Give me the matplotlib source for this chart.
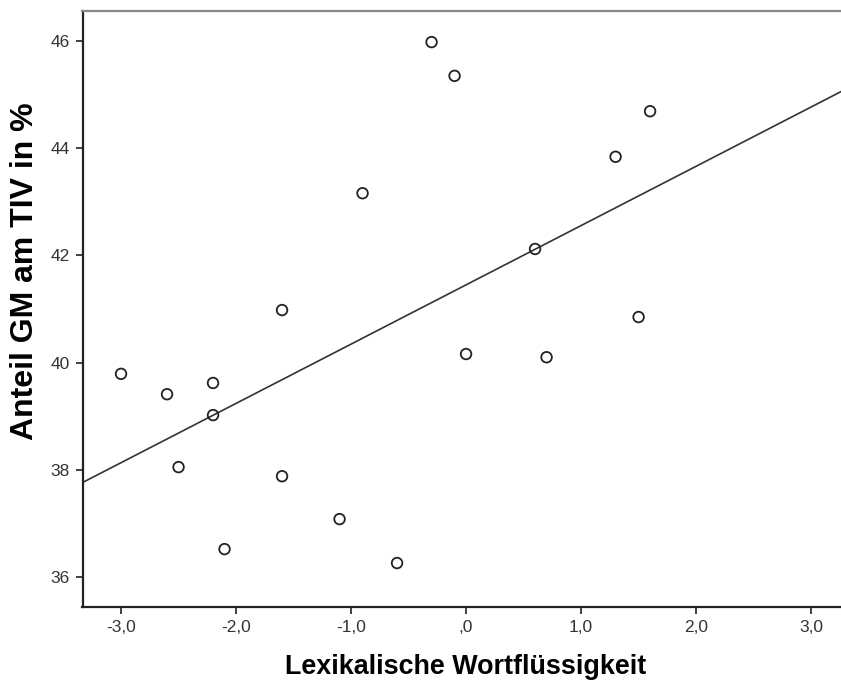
import numpy as np
import matplotlib
matplotlib.use("Agg")
import matplotlib.pyplot as plt

plt.rcParams['font.family'] = ['Liberation Sans', 'DejaVu Sans']

# Lexikalische Wortflüssigkeit (z-Werte) und Anteil graue Substanz am TIV
wortfluessigkeit = [-3.0, -2.6, -2.2, -2.2, -2.5, -2.1, -1.6, -1.6, -1.1, -0.9,
                    -0.6, -0.3, -0.1, 0.0, 0.6, 0.7, 1.3, 1.5, 1.6]
anteil_gm = [39.79, 39.41, 39.62, 39.02, 38.05, 36.52, 40.98, 37.88, 37.08, 43.16,
             36.26, 45.98, 45.35, 40.16, 42.12, 40.10, 43.84, 40.85, 44.69]

x_ticks = [-3.0, -2.0, -1.0, 0.0, 1.0, 2.0, 3.0]
x_ticklabels = ["-3,0", "-2,0", "-1,0", ",0", "1,0", "2,0", "3,0"]
y_ticks = [36, 38, 40, 42, 44, 46]

fig = plt.figure(figsize=(8.41, 6.84), dpi=100)
ax = fig.add_axes([82.5 / 841, 77 / 684, 1 - 82.5 / 841, 596 / 684])

x = np.array(wortfluessigkeit)
y = np.array(anteil_gm)
ax.scatter(x, y, s=58, facecolors='none', edgecolors='#222222', linewidths=1.3, zorder=3)

# lineare Anpassung
steigung, achse = np.polyfit(x, y, 1)
xlim = (-3.335, 3.26)
xs = np.array(xlim)
ax.plot(xs, achse + steigung * xs, color='#333333', lw=1.2)

ax.set_xlim(*xlim)
ax.set_ylim(35.44, 46.56)
ax.set_xticks(x_ticks)
ax.set_xticklabels(x_ticklabels)
ax.set_yticks(y_ticks)

for side in ['left', 'bottom']:
    ax.spines[side].set_linewidth(1.6)
    ax.spines[side].set_color('#222222')
ax.spines['top'].set_color('#888888')
ax.spines['top'].set_linewidth(1.6)
ax.spines['right'].set_visible(False)

ax.tick_params(direction='out', length=5, width=1.3, color='#333333',
               labelsize=12.5, labelcolor='#333333', pad=4)

fig.text(466 / 841, 1 - 667 / 684, "Lexikalische Wortflüssigkeit",
         fontsize=19.4, fontweight='bold', ha='center', va='center')
fig.text(25 / 841, 1 - 271 / 684, "Anteil GM am TIV in %",
         fontsize=23, fontweight='bold', rotation=90, ha='center', va='center')

fig.savefig("out.png", dpi=100)
